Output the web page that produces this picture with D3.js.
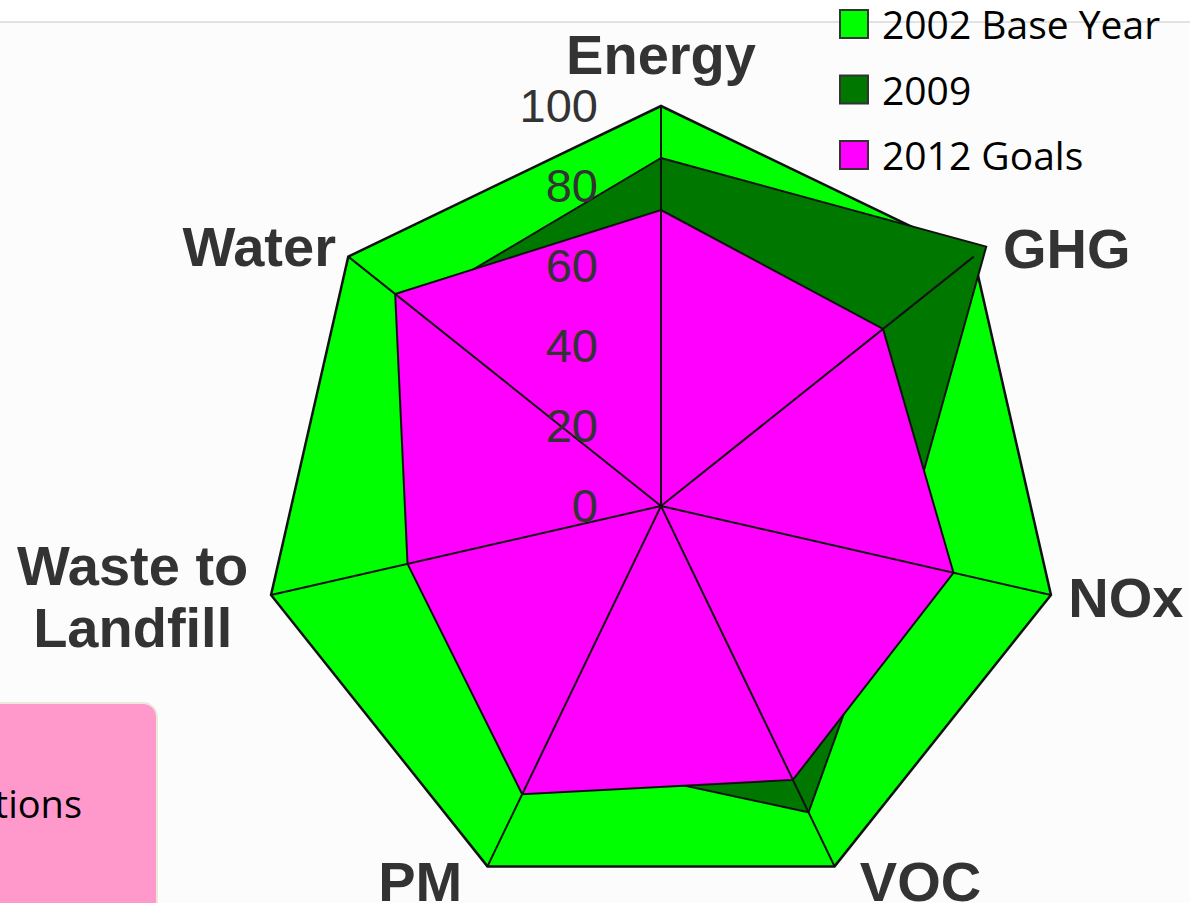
<!DOCTYPE html>
<html>
<head>
<meta charset="utf-8">
<script src="https://cdn.jsdelivr.net/npm/d3@7"></script>
<style>
  html, body { margin: 0; padding: 0; background: #fff; overflow: hidden; }
  svg { display: block; }
</style>
</head>
<body>
<div id="chart"></div>
<script>
// values (percent of 2002 base)
const axes = ['Energy', 'GHG', 'NOx', 'VOC', 'PM', 'Waste to Landfill', 'Water'];
const base2002 = [100, 100, 100, 100, 100, 100, 100];
const values2009 = [87, 104, 61, 85, 69, 62, 80];
const goals2012 = [74, 71, 75, 76, 80, 65, 85];
const ticks = [0, 20, 40, 60, 80, 100];
const seriesNames = ['2002 Base Year', '2009', '2012 Goals'];
const seriesColors = ['#00ff00', '#007800', '#ff00ff'];

const W = 1190, H = 903;
const cx = 661, cy = 506;

const svg = d3.select('#chart')
  .append('svg')
  .attr('width', W)
  .attr('height', H);

// page background + thin rule at top
svg.append('rect').attr('width', W).attr('height', H).attr('fill', '#fcfcfc');
svg.append('rect').attr('width', W).attr('height', 21).attr('fill', '#fff');
svg.append('line')
  .attr('x1', 0).attr('x2', W).attr('y1', 22).attr('y2', 22)
  .attr('stroke', '#e2e2e2').attr('stroke-width', 2);

// pink note box, cut by the left edge
const note = svg.append('g');
note.append('rect')
  .attr('x', -30).attr('y', 703)
  .attr('width', 187).attr('height', 240)
  .attr('rx', 14)
  .attr('fill', '#ff99cc')
  .attr('stroke', '#ebe7d9')
  .attr('stroke-width', 2);
note.append('text')
  .attr('x', 82).attr('y', 818)
  .attr('text-anchor', 'end')
  .style('font-family', "'Open Sans', sans-serif")
  .style('font-size', '38px')
  .attr('fill', '#000')
  .text('Operations');

const rScale = d3.scaleLinear().domain([0, 100]).range([0, 400]);
const angle = i => i * 2 * Math.PI / axes.length;

const g = svg.append('g').attr('transform', `translate(${cx}, ${cy})`);

const radar = d3.lineRadial()
  .angle((d, i) => angle(i))
  .radius(d => rScale(d))
  .curve(d3.curveLinearClosed);

// series polygons
const series = [base2002, values2009, goals2012];
g.selectAll('.area')
  .data(series)
  .enter()
  .append('path')
  .attr('class', 'area')
  .attr('d', d => radar(d))
  .attr('fill', (d, i) => seriesColors[i])
  .attr('stroke', '#111')
  .attr('stroke-width', (d, i) => i === 0 ? 2.5 : 2)
  .attr('stroke-linejoin', 'miter');

// spokes
g.selectAll('.spoke')
  .data(axes)
  .enter()
  .append('line')
  .attr('class', 'spoke')
  .attr('x1', 0).attr('y1', 0)
  .attr('x2', (d, i) => rScale(100) * Math.sin(angle(i)))
  .attr('y2', (d, i) => -rScale(100) * Math.cos(angle(i)))
  .attr('stroke', '#111')
  .attr('stroke-width', 2);

// tick labels along the top spoke
g.selectAll('.tick-label')
  .data(ticks)
  .enter()
  .append('text')
  .attr('class', 'tick-label')
  .attr('x', -63)
  .attr('y', d => -rScale(d))
  .attr('dy', '0.35em')
  .attr('text-anchor', 'end')
  .style('font-family', "'Liberation Sans', Arial, sans-serif")
  .style('font-size', '47px')
  .attr('fill', '#333')
  .text(d => d);

// axis names, nudged to sit like the original
const labelTweak = {
  'Energy': { dx: 0, dy: -26, anchor: 'middle' },
  'GHG': { dx: 9, dy: 8, anchor: 'start' },
  'NOx': { dx: -8, dy: -3, anchor: 'start' },
  'VOC': { dx: 14, dy: -8, anchor: 'start' },
  'PM': { dx: -14, dy: -8, anchor: 'end' },
  'Waste to Landfill': { dx: -113, dy: -4, anchor: 'middle' },
  'Water': { dx: 8, dy: 6, anchor: 'end' }
};
const labelR = rScale(100) + 26;

axes.forEach((name, i) => {
  const t = labelTweak[name];
  const x = labelR * Math.sin(angle(i)) + t.dx;
  const y = -labelR * Math.cos(angle(i)) + t.dy;
  const words = name.split(' ');
  const lines = name.length > 10
    ? [words.slice(0, -1).join(' '), words[words.length - 1]]
    : [name];
  const txt = g.append('text')
    .attr('class', 'axis-label')
    .attr('text-anchor', t.anchor)
    .style('font-family', "'Liberation Sans', Arial, sans-serif")
    .style('font-size', '56px')
    .style('font-weight', 'bold')
    .attr('fill', '#333');
  lines.forEach((ln, k) => {
    txt.append('tspan')
      .attr('x', x)
      .attr('y', y + (k - (lines.length - 1) / 2) * 62)
      .attr('dy', '0.35em')
      .text(ln);
  });
});

// legend
const legend = svg.append('g').attr('id', 'legend')
  .selectAll('.legend-item')
  .data(seriesNames)
  .enter()
  .append('g')
  .attr('class', 'legend-item')
  .attr('transform', (d, i) => `translate(840, ${10 + i * 65.5})`);

legend.append('rect')
  .attr('width', 28).attr('height', 28)
  .attr('fill', (d, i) => seriesColors[i])
  .attr('stroke', '#333')
  .attr('stroke-width', 2);

legend.append('text')
  .attr('x', 42).attr('y', 29)
  .style('font-family', "'Open Sans', sans-serif")
  .style('font-size', '39px')
  .attr('fill', '#000')
  .text(d => d);
</script>
</body>
</html>
